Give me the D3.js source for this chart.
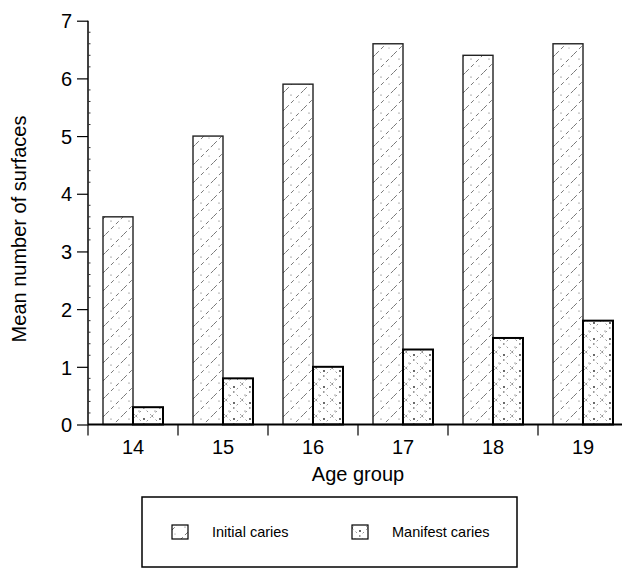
<!DOCTYPE html>
<html>
<head>
<meta charset="utf-8">
<script src="https://cdn.jsdelivr.net/npm/d3@7"></script>
<style>
	body { margin: 0; background: white; }
	text { font-family: "Liberation Sans", Arial, sans-serif; fill: black; }
</style>
</head>
<body>
<svg id="chart" width="622" height="579"></svg>
<script>
// data
let ages = ['14', '15', '16', '17', '18', '19']
let initialCaries = [3.6, 5.0, 5.9, 6.6, 6.4, 6.6]
let manifestCaries = [0.3, 0.8, 1.0, 1.3, 1.5, 1.8]
let seriesNames = ['Initial caries', 'Manifest caries']
let yTicks = [0, 1, 2, 3, 4, 5, 6, 7]

let svg = d3.select('#chart')

let x0 = 88, x1 = 628
let yTop = 20.7, yBot = 424.5

let x = d3.scaleBand().domain(ages).range([x0, x1]).padding(0)
let xSub = d3.scaleBand().domain(['initial', 'manifest']).range([15, 75]).padding(0)
let y = d3.scaleLinear().domain([0, 7]).range([yBot, yTop])

// hatch patterns (sparse dashed diagonals + dots)
let defs = svg.append('defs')

let pInit = defs.append('pattern')
	.attr('id', 'pInit')
	.attr('patternUnits', 'userSpaceOnUse')
	.attr('width', 18).attr('height', 18)
pInit.append('rect').attr('width', 18).attr('height', 18).attr('fill', 'white')
pInit.append('line')
	.attr('x1', 0).attr('y1', 18).attr('x2', 18).attr('y2', 0)
	.attr('stroke', '#555').attr('stroke-width', 0.8)
	.attr('stroke-dasharray', '4,3')
pInit.append('circle').attr('cx', 5).attr('cy', 5).attr('r', 0.6).attr('fill', '#555')
pInit.append('circle').attr('cx', 13).attr('cy', 12).attr('r', 0.5).attr('fill', '#777')

let pMan = defs.append('pattern')
	.attr('id', 'pMan')
	.attr('patternUnits', 'userSpaceOnUse')
	.attr('width', 16).attr('height', 16)
pMan.append('rect').attr('width', 16).attr('height', 16).attr('fill', 'white')
pMan.append('line')
	.attr('x1', 0).attr('y1', 16).attr('x2', 16).attr('y2', 0)
	.attr('stroke', '#666').attr('stroke-width', 0.7)
	.attr('stroke-dasharray', '2,3')
pMan.append('line')
	.attr('x1', 0).attr('y1', 0).attr('x2', 16).attr('y2', 16)
	.attr('stroke', '#666').attr('stroke-width', 0.7)
	.attr('stroke-dasharray', '2,3')
pMan.append('circle').attr('cx', 8).attr('cy', 3).attr('r', 0.9).attr('fill', '#222')
pMan.append('circle').attr('cx', 3).attr('cy', 11).attr('r', 0.6).attr('fill', '#444')

// bars
let rows = ages.map((a, i) => ({age: a, initial: initialCaries[i], manifest: manifestCaries[i]}))

let groups = svg.append('g').attr('id', 'bars')
	.selectAll('g').data(rows).join('g')
	.attr('transform', d => `translate(${x(d.age)},0)`)

groups.append('rect')
	.attr('x', xSub('initial')).attr('width', xSub.bandwidth())
	.attr('y', d => y(d.initial)).attr('height', d => y(0) - y(d.initial))
	.attr('fill', 'url(#pInit)')
	.attr('stroke', '#222').attr('stroke-width', 1.4)

groups.append('rect')
	.attr('x', xSub('manifest')).attr('width', xSub.bandwidth())
	.attr('y', d => y(d.manifest)).attr('height', d => y(0) - y(d.manifest))
	.attr('fill', 'url(#pMan)')
	.attr('stroke', 'black').attr('stroke-width', 2)

// y axis
let yAxis = svg.append('g')
	.attr('transform', `translate(${x0},0)`)
	.call(d3.axisLeft(y).tickValues(yTicks).tickSize(11).tickPadding(5).tickFormat(d3.format('d')))
yAxis.select('.domain').remove()
yAxis.selectAll('.tick line').attr('stroke', 'black').attr('stroke-width', 1.2)
yAxis.selectAll('.tick text')
	.attr('dy', '0.36em')
	.style('font-size', '20px')
	.style('font-family', '"Liberation Sans", Arial, sans-serif')

svg.append('line')
	.attr('x1', x0).attr('x2', x0)
	.attr('y1', yTop).attr('y2', yBot)
	.attr('stroke', 'black').attr('stroke-width', 1.5)

let minor = d3.range(0, 35).map(i => i * 0.2).filter(v => Math.abs(v - Math.round(v)) > 0.01)
svg.append('g').selectAll('line').data(minor).join('line')
	.attr('x1', x0).attr('x2', x0 + 2.5)
	.attr('y1', d => y(d)).attr('y2', d => y(d))
	.attr('stroke', '#333').attr('stroke-width', 1)

// x axis
svg.append('line')
	.attr('x1', x0).attr('x2', 622)
	.attr('y1', yBot).attr('y2', yBot)
	.attr('stroke', 'black').attr('stroke-width', 2)

let bounds = ages.map(a => x(a)).concat([x1])
svg.append('g').selectAll('line').data(bounds).join('line')
	.attr('x1', d => d).attr('x2', d => d)
	.attr('y1', yBot).attr('y2', yBot + 11)
	.attr('stroke', 'black').attr('stroke-width', 1.2)

svg.append('g').selectAll('text').data(ages).join('text')
	.attr('x', d => x(d) + x.bandwidth() / 2)
	.attr('y', 454)
	.attr('text-anchor', 'middle')
	.style('font-size', '20px')
	.text(d => d)

svg.append('text')
	.attr('x', (x0 + x1) / 2).attr('y', 481)
	.attr('text-anchor', 'middle')
	.style('font-size', '20px')
	.text('Age group')

svg.append('text')
	.attr('transform', `translate(26,229) rotate(-90)`)
	.attr('text-anchor', 'middle')
	.style('font-size', '20px')
	.text('Mean number of surfaces')

// legend
let legend = svg.append('g').attr('id', 'legend')
legend.append('rect')
	.attr('x', 142).attr('y', 497)
	.attr('width', 375).attr('height', 70)
	.attr('fill', 'none').attr('stroke', 'black').attr('stroke-width', 1.5)

let legX = [172, 352]
let legFill = ['url(#pInit)', 'url(#pMan)']
seriesNames.forEach((n, i) => {
	legend.append('rect')
		.attr('x', legX[i]).attr('y', 525)
		.attr('width', 16).attr('height', 14)
		.attr('fill', legFill[i])
		.attr('stroke', 'black').attr('stroke-width', 1.2)
	legend.append('text')
		.attr('x', legX[i] + 40).attr('y', 537)
		.style('font-size', '14.5px')
		.text(n)
})
</script>
</body>
</html>
